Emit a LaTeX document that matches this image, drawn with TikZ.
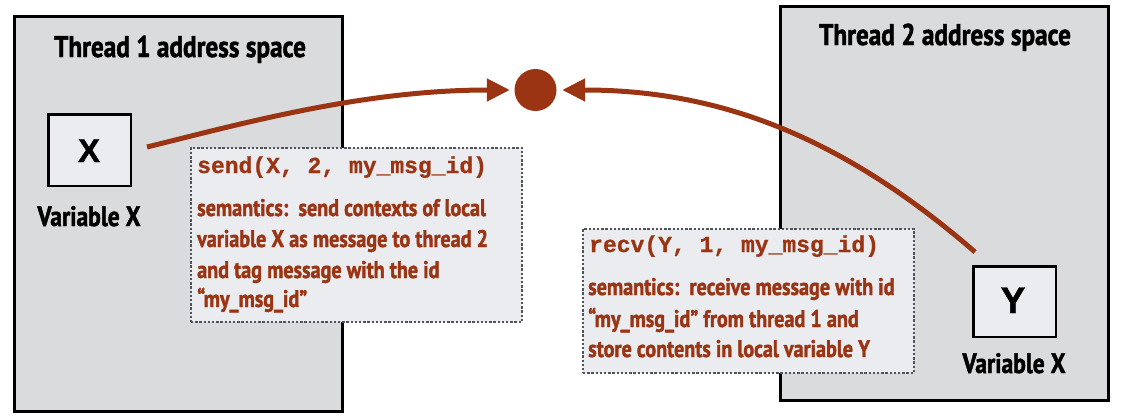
\documentclass[tikz,border=0pt]{standalone}
\usepackage{fontspec}
\usetikzlibrary{arrows.meta}
\newfontfamily\cond{PT Sans}[FakeStretch=0.84, BoldFont={PT Sans Bold}, BoldFeatures={FakeStretch=0.84, FakeBold=1.6}]
\newfontfamily\codef{Liberation Mono}[BoldFeatures={FakeBold=0.8}]
\newfontfamily\helv{Liberation Sans}[BoldFeatures={FakeBold=1}]
\definecolor{msgred}{RGB}{154,52,18}
\definecolor{threadgray}{RGB}{218,219,221}
\definecolor{innerfill}{RGB}{235,236,240}
\definecolor{dotgray}{RGB}{80,84,90}
\begin{document}
\begin{tikzpicture}[x=1pt,y=-1pt,
  thread/.style={draw=black, line width=3pt, fill=threadgray, inner sep=0pt},
  varbox/.style={draw=black, line width=2.5pt, fill=innerfill, inner sep=0pt},
  notebox/.style={draw=dotgray, line width=2.5pt, dash pattern=on 2.4pt off 1.8pt, fill=innerfill, inner sep=0pt},
  title/.style={font=\cond\bfseries\fontsize{30}{30}\selectfont, anchor=base, inner sep=0pt},
  varlabel/.style={font=\cond\bfseries\fontsize{28}{28}\selectfont, anchor=base, inner sep=0pt},
  codetxt/.style={font=\codef\bfseries\fontsize{23}{23}\selectfont, text=msgred, anchor=base west, inner sep=0pt},
  semtxt/.style={font=\cond\bfseries\fontsize{24}{24}\selectfont, text=msgred, anchor=base west, inner sep=0pt},
  msgarrow/.style={draw=msgred, line width=5pt, -{Triangle[length=23pt,width=22pt]}},
  msgdot/.style={circle, fill=msgred, minimum size=42pt, inner sep=0pt}]
\useasboundingbox (0,0) rectangle (1126,418);
% thread address spaces
\node[thread, minimum width=328pt, minimum height=395pt] (t1) at (178.5,214) {};
\node[thread, minimum width=328pt, minimum height=394pt] (t2) at (944.5,203.5) {};
\node[title] (t1title) at (180,57) {Thread 1 address space};
\node[title] (t2title) at (945,45) {Thread 2 address space};
% variables
\node[varbox, minimum width=82.5pt, minimum height=71.5pt] (xbox) at (89.5,150) {};
\node[font=\helv\bfseries\fontsize{33}{33}\selectfont, anchor=base, inner sep=0pt] (xlet) at (89,162) {X};
\node[varlabel] (xlab) at (89,226) {Variable X};
\node[varbox, minimum width=82.5pt, minimum height=70.5pt] (ybox) at (1014.5,301.5) {};
\node[font=\helv\bfseries\fontsize{37}{37}\selectfont, anchor=base, inner sep=0pt] (ylet) at (1013,313) {Y};
\node[varlabel] (ylab) at (1014,373) {Variable X};
% send note
\node[notebox, minimum width=331pt, minimum height=174pt] (sendbox) at (356.5,235) {};
\node[codetxt] (sc) at (197,173) {send(X, 2, my\_msg\_id)};
\node[semtxt] (s1) at (197,216) {semantics:\ \ send contexts of local};
\node[semtxt] (s2) at (197,247) {variable X as message to thread 2};
\node[semtxt] (s3) at (197,278) {and tag message with the id};
\node[semtxt] (s4) at (197,307) {“my\_msg\_id”};
% recv note
\node[notebox, minimum width=331pt, minimum height=144pt] (recvbox) at (748.5,301) {};
\node[codetxt] (rc) at (589,252) {recv(Y, 1, my\_msg\_id)};
\node[semtxt] (r1) at (588,295) {semantics:\ \ receive message with id};
\node[semtxt] (r2) at (588,327) {“my\_msg\_id” from thread 1 and};
\node[semtxt] (r3) at (588,357) {store contents in local variable Y};
% message point
\node[msgdot] (dot) at (535.5,90) {};
\coordinate (xout) at (147,147);
\coordinate (yout) at (975,252);
\draw[msgarrow, shorten >=4.5pt] (xout) .. controls (244,123) and (364,90) .. (dot);
\draw[msgarrow, shorten >=5.5pt] (yout) .. controls (839,134) and (716,90) .. (dot);
\end{tikzpicture}
\end{document}
